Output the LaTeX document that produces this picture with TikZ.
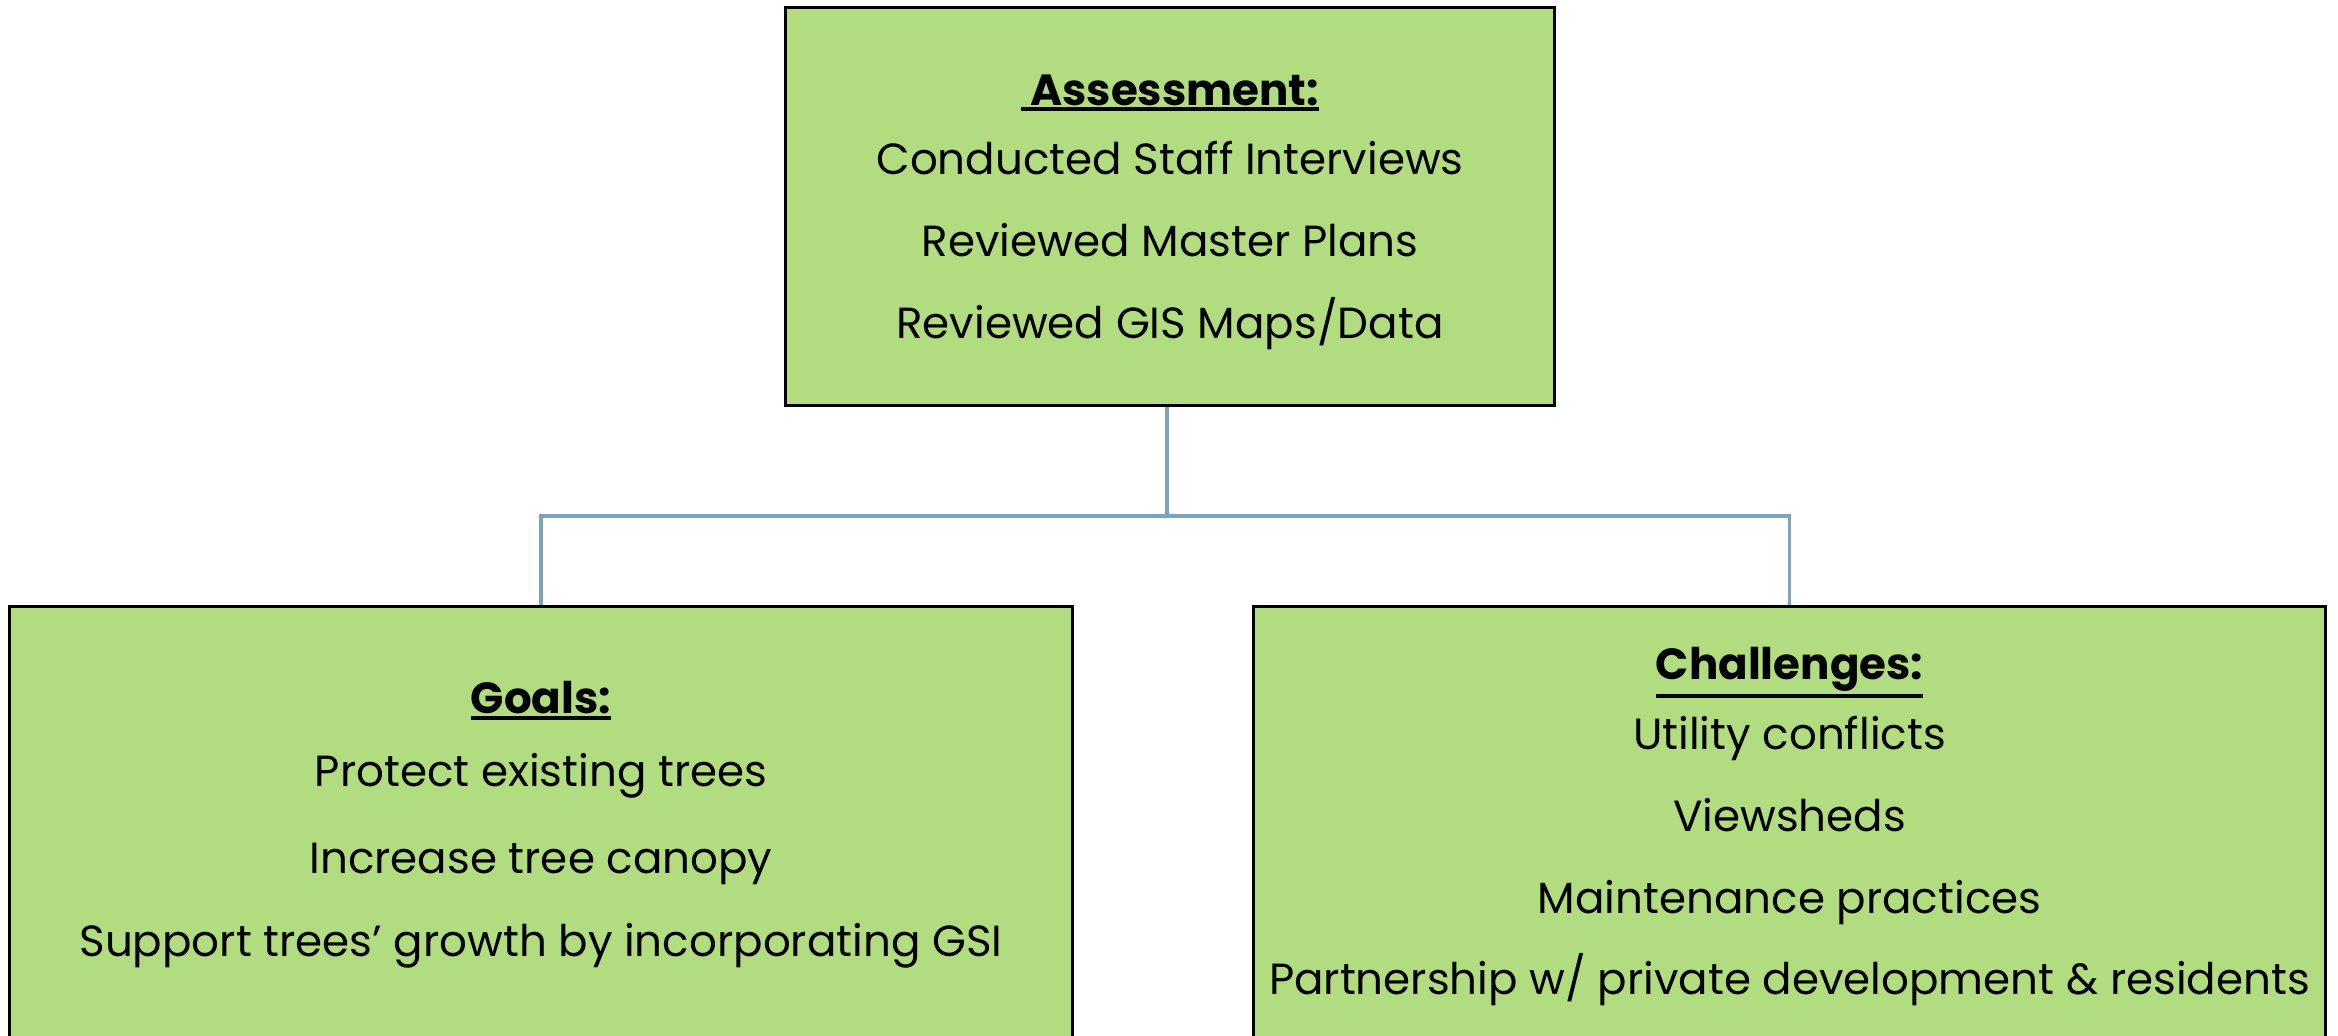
\documentclass[tikz,border=0pt]{standalone}
\usepackage{fontspec}
\setmainfont{Poppins}
\usetikzlibrary{positioning}
\definecolor{boxgreen}{RGB}{177,221,128}
\definecolor{linkblue}{RGB}{120,165,185}
\newcommand\boxhead[1]{\setbox0\hbox{\textbf{#1}}\leavevmode\rlap{\rule[\dimexpr-\dp0-1.6pt\relax]{\wd0}{1.1pt}}\box0}

\begin{document}
\begin{tikzpicture}[x=0.01cm,y=-0.01cm,
  box/.style={draw=black,line width=0.8pt,fill=boxgreen,align=center,inner sep=0pt,font=\fontsize{12.4}{23.3}\selectfont},
  link/.style={draw=linkblue,line width=1pt}]

  \useasboundingbox (0,0) rectangle (2338,1036);
  \clip (0,0) rectangle (2338,1036);

  \node[box,minimum width=7.68cm,minimum height=3.97cm] (assess) at (1170,206.5)
    {\rule{0pt}{12pt}\boxhead{ Assessment:}\\[-3.6pt]
     Conducted Staff Interviews\\
     Reviewed Master Plans\\
     Reviewed GIS Maps/Data};
  \node[box,minimum width=10.62cm,minimum height=4.3cm] (goals) at (541,822)
    {\rule{0pt}{11pt}\boxhead{Goals:}\\[-2.6pt]
     Protect existing trees\\[1.4pt]
     Increase tree canopy\\[0.4pt]
     Support trees’ growth by incorporating GSI};
  \node[box,minimum width=10.71cm,minimum height=4.3cm] (chall) at (1789.5,822)
    {\rule{0pt}{12pt}\boxhead{Challenges:}\\[-3.6pt]
     Utility conflicts\\
     Viewsheds\\
     Maintenance practices\\
     Partnership w/ private development \& residents};

  \coordinate (fork) at (1167,516);
  \draw[link] (assess.south -| fork) -- (fork);
  \draw[link] (fork) -| (goals.north);
  \draw[link] (fork) -| (chall.north);

\end{tikzpicture}
\end{document}
